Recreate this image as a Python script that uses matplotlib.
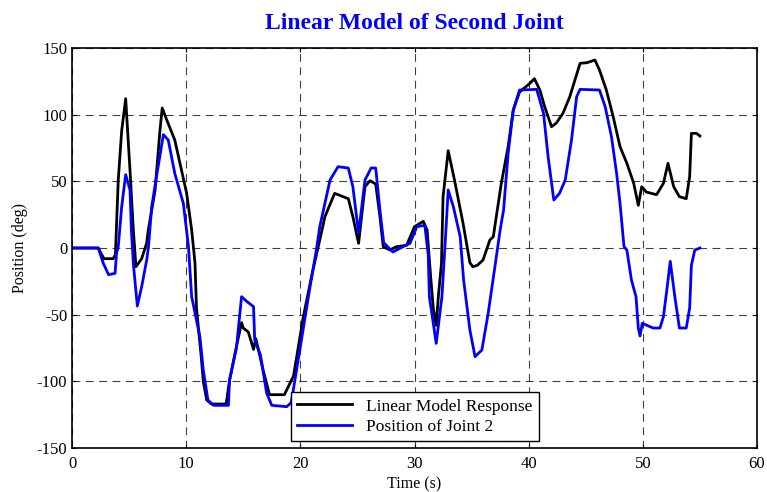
import matplotlib
matplotlib.use("Agg")
import matplotlib.pyplot as plt

plt.rcParams["font.family"] = ["Liberation Serif", "DejaVu Serif"]
plt.rcParams["axes.unicode_minus"] = False

# Linear model response (deg) vs time (s)
model_t = [0, 2.3, 2.6, 2.8, 3.6, 3.8, 4.05, 4.35, 4.7, 5.08, 5.37, 5.6, 6.1, 6.54, 6.68,
           7.27, 7.7, 7.9, 8.3, 9.0, 9.6, 10.04, 10.48, 10.77, 10.9, 11.3, 11.5, 11.8,
           12.2, 13.5, 13.8, 14.4, 14.85, 15.0, 15.44, 15.9, 16.1, 16.75, 17.3, 18.6,
           19.4, 20.25, 21.1, 21.7, 22.15, 23.0, 24.2, 24.6, 25.1, 25.66, 26.1, 26.6,
           26.97, 27.26, 27.85, 28.4, 29.3, 30.0, 30.77, 31.1, 31.4, 31.64, 31.9, 32.1,
           32.36, 32.5, 32.95, 33.5, 34.25, 34.85, 35.1, 35.5, 36.0, 36.6, 36.9, 37.6,
           38.2, 38.65, 39.2, 40.1, 40.5, 40.98, 41.4, 42.0, 42.4, 43.0, 43.6, 44.5,
           45.1, 45.8, 46.2, 46.8, 47.4, 48.0, 48.6, 49.2, 49.6, 49.9, 50.3, 51.2,
           51.8, 52.2, 52.7, 53.2, 53.8, 54.1, 54.25, 54.7, 55.0]
model_pos = [0, 0, -5, -8, -8, -5, 51, 88, 112, 58, 13.5, -14, -8, 3.7, 13.5,
             43, 88, 105, 96, 81, 58, 41, 13.5, -11, -45, -80, -100, -114,
             -117, -117, -99, -74, -56, -60, -63, -76, -68, -92, -110, -110,
             -96, -52, -16.5, 6, 23.5, 41, 37, 23.5, 3.5, 46, 50.5, 48,
             23.5, 1, -1.5, 1, 2, 16, 20, 13.5, -20, -45, -58, -35,
             -11.5, 38.5, 73, 51, 18.5, -11, -14, -13, -9, 6, 8.5, 48.5,
             76, 103.5, 117, 123.5, 127, 118.5, 106, 91, 93.5, 101, 113.5, 138.5,
             139, 141, 133.5, 118.5, 98.5, 76, 63.5, 48.5, 32, 46, 42, 40,
             48.5, 63.5, 46, 38.5, 37, 53.5, 86, 86, 84]

# Measured position of joint 2 (deg) vs time (s)
joint_t = [0, 2.3, 2.74, 3.2, 3.77, 3.9, 4.05, 4.35, 4.7, 5.08, 5.2, 5.37, 5.72, 6.1,
           6.54, 6.7, 6.98, 7.4, 8.0, 8.43, 9.0, 9.75, 10.2, 10.48, 11.2, 11.5, 11.9,
           12.4, 13.7, 13.8, 14.4, 14.85, 15.3, 15.9, 16.0, 16.5, 17.05, 17.5, 18.8,
           19.2, 20.0, 20.8, 21.4, 21.7, 22.6, 23.3, 24.2, 24.6, 25.1, 25.66, 26.2,
           26.6, 26.97, 27.3, 28.1, 29.0, 29.6, 30.2, 30.9, 31.2, 31.3, 31.9, 32.4,
           32.7, 32.95, 33.4, 34.0, 34.3, 34.85, 35.3, 35.9, 36.45, 37.0, 37.5, 37.8,
           38.2, 38.65, 39.2, 40.7, 41.3, 41.7, 42.2, 42.7, 43.2, 43.75, 44.2, 44.5,
           46.2, 46.7, 47.25, 47.7, 48.0, 48.35, 48.6, 49.0, 49.4, 49.6, 49.75, 49.95,
           50.9, 51.5, 51.8, 52.1, 52.4, 52.8, 53.2, 53.8, 54.1, 54.25, 54.55, 55.0]
joint_pos = [0, 0, -11.5, -20, -19, -4, 1, 31, 55, 43.5, 13.5, -11.5, -43.5, -29,
             -9, 1, 31, 53.5, 85, 81, 56, 33.5, 1, -36.5, -66.5, -91.5, -114,
             -118, -118, -99, -75, -36.5, -40, -44, -69, -80, -109, -118, -119,
             -116, -74, -31.5, -1.5, 16, 51, 61, 60, 46, 11, 51, 60,
             60, 28.5, 4, -3, 1, 3.5, 16, 17, -5, -36.5, -71.5, -36.5,
             6, 43.5, 31, 8.5, -24, -61.5, -81.5, -76.5, -49, -16.5, 13.5, 28.5,
             71, 103.5, 118.5, 119, 101, 68.5, 36, 41, 51, 81, 113.5, 119,
             118.5, 106, 83.5, 56, 33.5, 1, -1.5, -24, -36.5, -60, -66, -56.5,
             -60, -60, -51.5, -31.5, -10, -36.5, -60, -60, -45, -13, -1.5, 0]

fig = plt.figure(figsize=(7.67, 4.92), dpi=100)
ax = fig.add_axes([0.0939, 0.0894, 0.8931, 0.813])

ax.plot(model_t, model_pos, color="black", lw=2, label="Linear Model Response")
ax.plot(joint_t, joint_pos, color="#0000ff", lw=2, label="Position of Joint 2")

ax.set_xlim(0, 60)
ax.set_ylim(-150, 150)
ax.set_xticks(range(0, 61, 10))
ax.set_yticks(range(-150, 151, 50))
ax.grid(True, color="black", linestyle=(0, (7, 5)), linewidth=0.8, alpha=0.75)
ax.tick_params(direction="in", length=3, top=True, right=True, labelsize=12)
ax.tick_params(axis="x", pad=6)
for s in ax.spines.values():
    s.set_linewidth(1.2)

ax.set_xlabel("Time (s)", fontsize=11.5, labelpad=3)
ax.set_ylabel("Position (deg)", fontsize=11.5, labelpad=6)
ax.set_title("Linear Model of Second Joint", color="#0000ff", fontweight="bold",
             fontsize=17, pad=14)

leg = ax.legend(loc="lower center", bbox_to_anchor=(0.5, 0.0), fontsize=12.5,
                fancybox=False, framealpha=1, edgecolor="black", borderaxespad=0.4,
                handlelength=3.2, labelspacing=0.25, borderpad=0.35)
leg.get_frame().set_linewidth(1.0)

fig.savefig("out.png", dpi=100)
